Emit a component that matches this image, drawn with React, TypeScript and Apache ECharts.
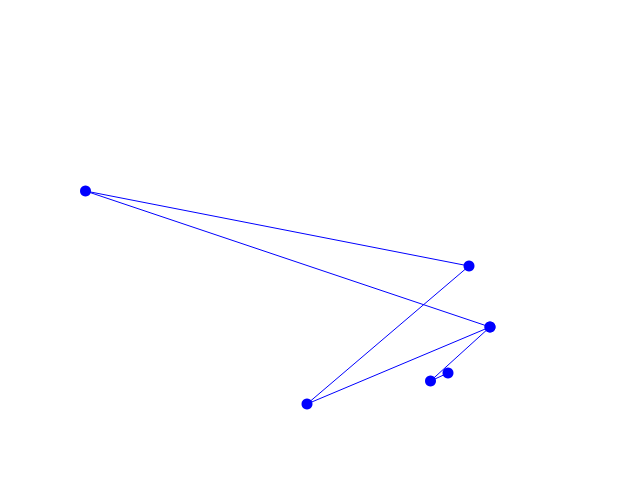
import React, { useEffect, useRef } from "react";
import * as echarts from "echarts";

const xValues = [448, 430.5, 490, 307, 469, 85.5, 490];
const yValues = [107, 99, 153, 76, 214, 289, 153];

export default function App() {
  const ref = useRef<HTMLDivElement>(null);
  useEffect(() => {
    if (!ref.current) return;
    const chart = echarts.init(ref.current, null, { renderer: "svg" });
    chart.setOption({
      animation: false,
      backgroundColor: "#ffffff",
      grid: { left: 0, right: 0, top: 0, bottom: 0 },
      xAxis: { type: "value", min: 0, max: 640, show: false },
      yAxis: { type: "value", min: 0, max: 480, show: false },
      series: [
        {
          type: "line",
          data: xValues.map((x, i) => [x, yValues[i]]),
          symbol: "circle",
          symbolSize: 11,
          showSymbol: true,
          lineStyle: { color: "#0000ff", width: 1 },
          itemStyle: { color: "#0000ff" },
        },
      ],
    });
    return () => chart.dispose();
  }, []);
  return (
    <div
      ref={ref}
      style={{ position: "fixed", left: 0, top: 0, width: 640, height: 480 }}
    />
  );
}
